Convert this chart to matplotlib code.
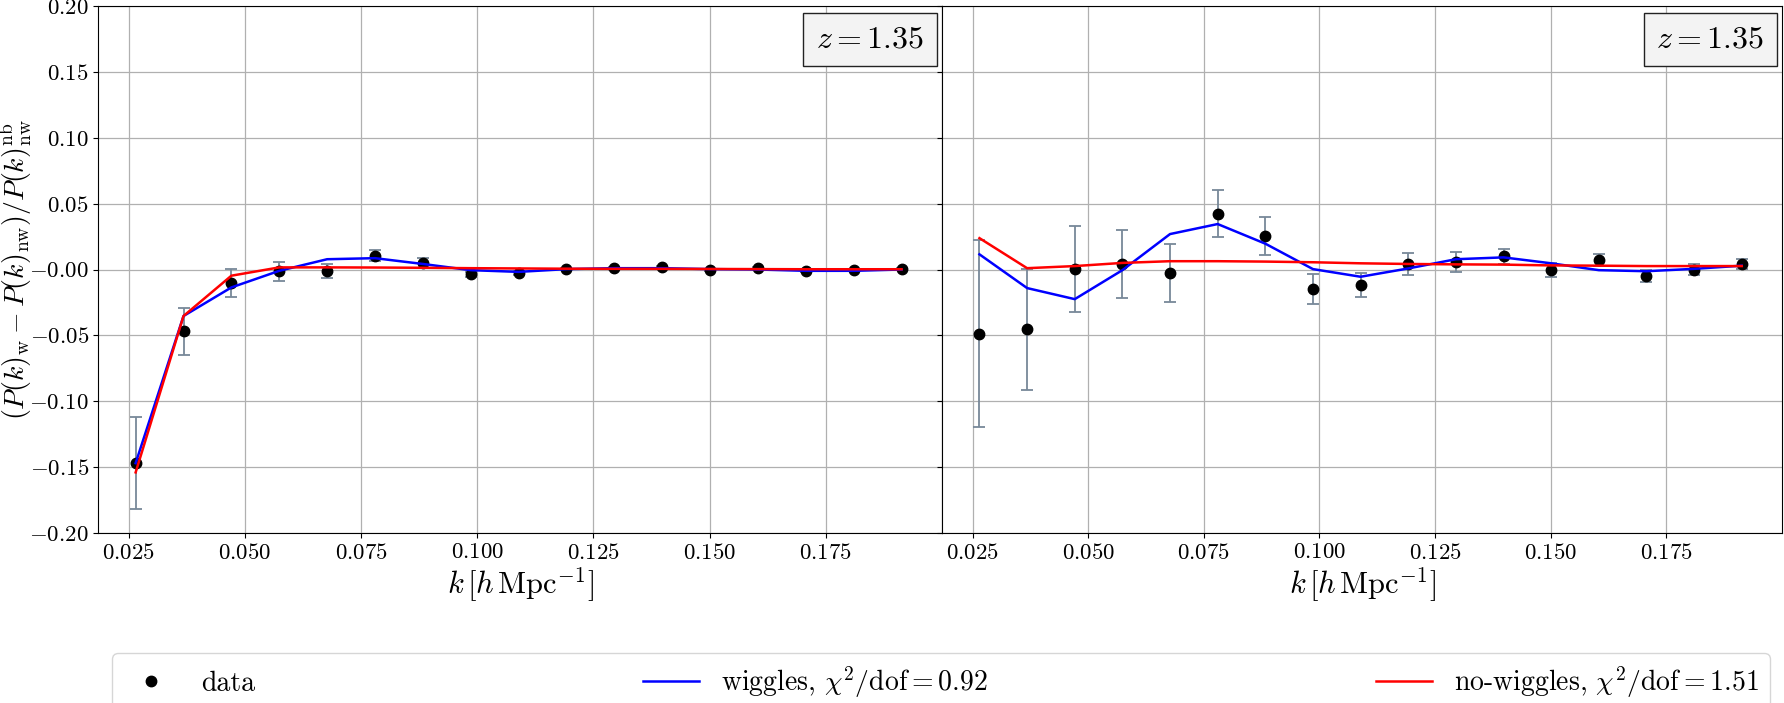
import numpy as np
import matplotlib
matplotlib.use('Agg')
import matplotlib.pyplot as plt

plt.rcParams['font.family'] = 'serif'
plt.rcParams['font.serif'] = ['cmr10']
plt.rcParams['mathtext.fontset'] = 'cm'
plt.rcParams['axes.formatter.use_mathtext'] = True

k = [0.0265, 0.0368, 0.0471, 0.0574, 0.0677, 0.0780, 0.0883, 0.0986, 0.1089,
     0.1192, 0.1295, 0.1398, 0.1501, 0.1604, 0.1707, 0.1810, 0.1913]

# left panel
data_l = [-0.147, -0.047, -0.010, -0.0013, -0.0013, 0.0105, 0.005, -0.0037, -0.003,
          0.0003, 0.001, 0.0016, -0.0003, 0.001, -0.001, -0.0003, 0.0005]
err_l = [0.035, 0.018, 0.0105, 0.0073, 0.0053, 0.0042, 0.0035, 0.002, 0.0015,
         0.001, 0.001, 0.001, 0.001, 0.001, 0.001, 0.001, 0.001]
wig_l = [-0.147, -0.0353, -0.0136, -0.001, 0.0078, 0.0086, 0.0042, -0.0005, -0.0018,
         0.0003, 0.001, 0.001, 0.0003, 0.0, -0.001, -0.001, 0.0]
nowig_l = [-0.154, -0.0353, -0.0047, 0.0016, 0.0016, 0.0015, 0.0013, 0.001, 0.0008,
           0.0006, 0.0005, 0.0005, 0.0004, 0.0003, 0.0002, 0.0002, 0.0002]

# right panel
data_r = [-0.0486, -0.0455, 0.0005, 0.0042, -0.0026, 0.0424, 0.0254, -0.0149, -0.0118,
          0.0042, 0.0058, 0.0099, -0.0003, 0.0073, -0.0052, 0.0, 0.0042]
err_r = [0.071, 0.046, 0.0326, 0.026, 0.0217, 0.018, 0.0144, 0.0113, 0.0094,
         0.0083, 0.0077, 0.006, 0.0056, 0.0047, 0.0045, 0.0038, 0.0036]
wig_r = [0.0115, -0.0141, -0.0225, -0.0005, 0.0269, 0.0345, 0.0196, 0.0003, -0.0055,
         0.0008, 0.0078, 0.0092, 0.0047, -0.0005, -0.0013, 0.0005, 0.0029]
nowig_r = [0.0238, 0.001, 0.0026, 0.005, 0.0063, 0.0063, 0.006, 0.0055, 0.0047,
           0.0042, 0.0039, 0.0037, 0.0031, 0.0029, 0.0026, 0.0026, 0.0026]

chi2_wig = 0.92
chi2_nowig = 1.51
z = 1.35

fig = plt.figure(figsize=(17.84, 7.03), dpi=100)
ax1 = fig.add_axes([98 / 1784, 1 - 533 / 703, 844 / 1784, 527 / 703])
ax2 = fig.add_axes([942 / 1784, 1 - 533 / 703, 840 / 1784, 527 / 703], sharey=ax1)

for ax, d, e, w, nw in [(ax1, data_l, err_l, wig_l, nowig_l),
                        (ax2, data_r, err_r, wig_r, nowig_r)]:
    ax.errorbar(k, d, yerr=e, fmt='none', ecolor='lightslategray', capsize=4.5, elinewidth=1.3, capthick=1.3)
    ax.plot(k, d, 'o', color='black', markersize=7.5, label='data')
    ax.plot(k, w, color='blue', lw=1.8,
            label=r'wiggles, $\chi^2/{\rm dof} = %.2f$' % chi2_wig)
    ax.plot(k, nw, color='red', lw=1.8,
            label=r'no-wiggles, $\chi^2/{\rm dof} = %.2f$' % chi2_nowig)
    ax.set_xlim(0.0184, 0.2)
    ax.set_ylim(-0.2, 0.2)
    ax.set_xticks([0.025, 0.05, 0.075, 0.1, 0.125, 0.15, 0.175])
    ax.set_yticks(np.arange(-0.2, 0.201, 0.05))
    ax.xaxis.set_major_formatter(matplotlib.ticker.FormatStrFormatter('$%.3f$'))
    ax.yaxis.set_major_formatter(matplotlib.ticker.FormatStrFormatter('$%.2f$'))
    ax.tick_params(labelsize=16.5)
    ax.tick_params(axis='y', pad=3)
    ax.grid(True, color='#b0b0b0', lw=0.9)
    ax.set_axisbelow(True)
    ax.set_xlabel(r'$k\,[h\,{\rm Mpc}^{-1}]$', fontsize=22, labelpad=2)
    ax.text(0.979, 0.962, r'$z = %.2f$' % z, transform=ax.transAxes, ha='right', va='top',
            fontsize=23, bbox=dict(boxstyle='square,pad=0.4', facecolor='#f3f3f3', edgecolor='#222222'))

ax2.tick_params(labelleft=False)
ax1.set_ylabel(r'$(P(k)_{\rm w} - P(k)_{\rm nw})/P(k)^{\rm nb}_{\rm nw}$', fontsize=20)
ax1.yaxis.set_label_coords(-0.076, 0.5)

handles, labels = ax1.get_legend_handles_labels()
fig.legend(handles, labels, loc='upper left', ncol=3, mode='expand', fontsize=20,
           bbox_to_anchor=(112 / 1784, 0, 1658 / 1784, 1 - 653 / 703), borderaxespad=0)

plt.savefig('out.png', dpi=100)
